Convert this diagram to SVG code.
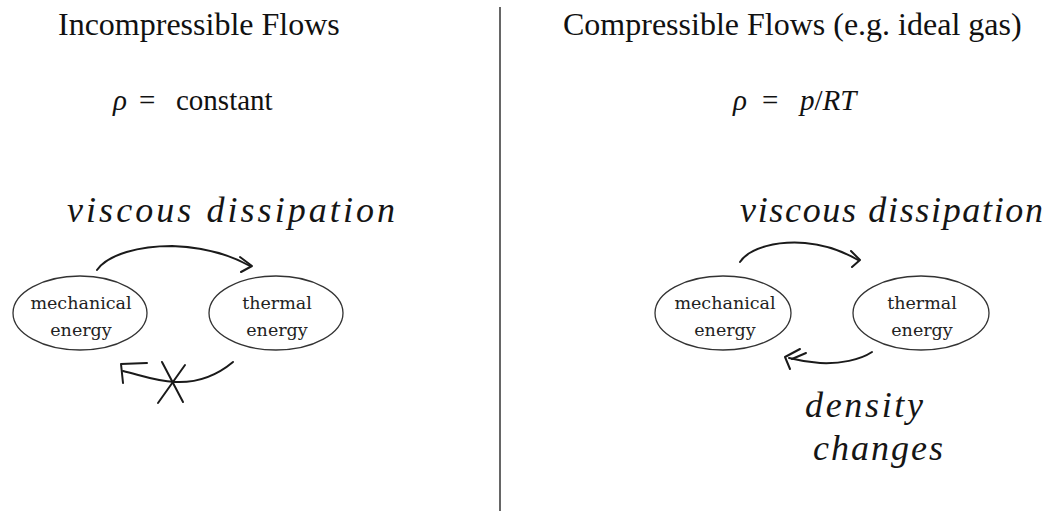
<svg xmlns="http://www.w3.org/2000/svg" width="1050" height="511" viewBox="0 0 1050 511">
<style>
.title{font-family:"Liberation Serif",serif;font-size:32px;fill:#111}
.eq{font-family:"Liberation Serif",serif;font-size:29px;fill:#111}
.it{font-style:italic}
.node ellipse{fill:#fff;stroke:#333;stroke-width:1.3}
.node text{font-family:"DejaVu Serif",serif;font-size:17.5px;fill:#222;text-anchor:middle}
.hand{font-family:"Liberation Serif",serif;font-style:italic;font-size:36px;fill:#151515}
.conn path{fill:none;stroke:#1a1a1a;stroke-width:2;stroke-linecap:round;stroke-linejoin:round}
</style>
<rect width="1050" height="511" fill="#fff"/>
<line x1="500" y1="7" x2="500" y2="511" stroke="#666" stroke-width="2"/>

<text class="title" x="58" y="35">Incompressible Flows</text>
<text class="title" x="563" y="35">Compressible Flows (e.g. ideal gas)</text>

<text class="eq" y="110"><tspan class="it" x="113">ρ</tspan><tspan x="139">=</tspan><tspan x="176">constant</tspan></text>
<text class="eq" y="110"><tspan class="it" x="733">ρ</tspan><tspan x="762">=</tspan><tspan class="it" x="800">p</tspan><tspan>/</tspan><tspan class="it">RT</tspan></text>

<text class="hand" x="67" y="222" textLength="328" lengthAdjust="spacing">viscous dissipation</text>
<text class="hand" x="740" y="222" textLength="303" lengthAdjust="spacing">viscous dissipation</text>
<text class="hand" x="805" y="417" textLength="118" lengthAdjust="spacing">density</text>
<text class="hand" x="813" y="460" textLength="130" lengthAdjust="spacing">changes</text>

<g id="node-mech-left" class="node">
<ellipse cx="80" cy="313" rx="67" ry="37"/>
<text x="81" y="309">mechanical</text>
<text x="81" y="336">energy</text>
</g>
<g id="node-therm-left" class="node">
<ellipse cx="276" cy="313" rx="67" ry="37"/>
<text x="277" y="309">thermal</text>
<text x="277" y="336">energy</text>
</g>
<g id="node-mech-right" class="node">
<ellipse cx="723" cy="313" rx="68" ry="37"/>
<text x="725" y="309">mechanical</text>
<text x="725" y="336">energy</text>
</g>
<g id="node-therm-right" class="node">
<ellipse cx="921" cy="313" rx="68" ry="37"/>
<text x="922" y="309">thermal</text>
<text x="922" y="336">energy</text>
</g>

<g id="connectors" class="conn">
<path d="M97,270 C108,254 140,246 172,246 C205,247 232,256 250,266"/>
<path d="M240,257 L252,266 L241,272"/>
<path d="M233,362 C215,377 195,383 175,382 C155,381 140,375 123,371"/>
<path d="M147,363 L121,364 L123,383"/>
<path d="M162,362 L183,402"/>
<path d="M185,365 L158,403"/>
<path d="M740,262 C750,247 778,241 805,243 C828,245 846,253 858,260"/>
<path d="M851,251 L860,260 L852,267"/>
<path d="M872,352 C860,360 840,364 820,363 C805,362 797,360 789,358"/>
<path d="M800,349 L785,357 L790,369"/>
<path d="M806,353 L792,359"/>
</g>
</svg>
